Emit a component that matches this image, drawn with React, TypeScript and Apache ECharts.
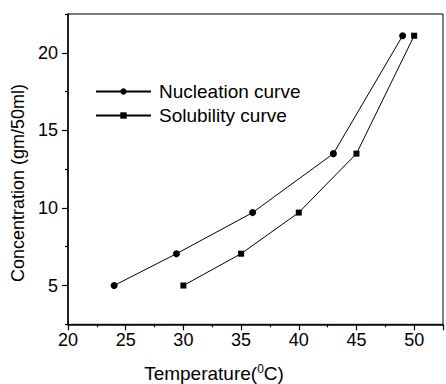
import React, { useEffect, useRef } from "react";
import * as echarts from "echarts";

const nucleationT = [24, 29.4, 36, 43, 49];
const nucleationC = [5.0, 7.05, 9.7, 13.5, 21.1];
const solubilityT = [30, 35, 40, 45, 50];
const solubilityC = [5.0, 7.05, 9.7, 13.5, 21.1];
const seriesNames = ["Nucleation curve", "Solubility curve"];
const xTitle = "Temperature(";
const yTitle = "Concentration (gm/50ml)";

const FONT = "'Liberation Sans', Arial, sans-serif";

export default function App() {
  const ref = useRef<HTMLDivElement>(null);
  useEffect(() => {
    if (!ref.current) return;
    const chart = echarts.init(ref.current, null, { renderer: "svg" });
    const pairs = (xs: number[], ys: number[]) => xs.map((x, i) => [x, ys[i]]);
    const tickStyle = { color: "#000", width: 1.2 };
    chart.setOption({
      animation: false,
      backgroundColor: "#fff",
      textStyle: { fontFamily: FONT },
      grid: {
        left: 68,
        top: 14,
        right: -1.5,
        bottom: 59.7,
        show: true,
        borderColor: "#000",
        borderWidth: 1,
      },
      legend: {
        orient: "vertical",
        left: 90,
        top: 77,
        itemWidth: 55,
        itemHeight: 8,
        itemGap: 5,
        data: seriesNames,
        textStyle: {
          fontFamily: FONT,
          fontSize: 19,
          color: "#000",
          lineHeight: 18,
          padding: [0, 0, 0, 3],
        },
      },
      xAxis: {
        type: "value",
        min: 20,
        max: 52.5,
        interval: 5,
        axisLine: { show: true, lineStyle: { color: "#000", width: 1.5 } },
        axisTick: { show: true, inside: false, length: 6, lineStyle: tickStyle },
        minorTick: { show: true, splitNumber: 2, length: 3, lineStyle: tickStyle },
        splitLine: { show: false },
        axisLabel: {
          color: "#000",
          fontSize: 18,
          fontFamily: FONT,
          margin: 7,
          formatter: (v: number) => (v % 5 === 0 ? String(v) : ""),
        },
      },
      yAxis: [
        {
          type: "value",
          min: 2.5,
          max: 22.5,
          interval: 5,
          axisLine: { show: true, lineStyle: { color: "#000", width: 1.5 } },
          axisTick: { show: true, inside: false, length: 3, lineStyle: tickStyle },
          minorTick: { show: true, splitNumber: 2, length: 6, lineStyle: tickStyle },
          splitLine: { show: false },
          axisLabel: { show: false },
        },
        {
          type: "value",
          position: "left",
          min: 2.5,
          max: 22.5,
          interval: 2.5,
          axisLine: { show: false },
          axisTick: { show: false },
          splitLine: { show: false },
          axisLabel: {
            color: "#000",
            fontSize: 18,
            fontFamily: FONT,
            margin: 10,
            formatter: (v: number) => (Math.abs(v % 5) < 1e-9 ? String(v) : ""),
          },
        },
      ],
      graphic: [
        {
          type: "text",
          x: 18,
          y: 183,
          rotation: Math.PI / 2,
          style: {
            text: yTitle,
            fontSize: 18,
            fontFamily: FONT,
            fill: "#000",
            align: "center",
            verticalAlign: "middle",
          },
        },
        {
          type: "text",
          x: 214,
          y: 373,
          style: {
            text: xTitle + "{s|0}C)",
            fontSize: 19,
            fontFamily: FONT,
            fill: "#000",
            align: "center",
            verticalAlign: "middle",
            rich: {
              s: { fontSize: 12, fontFamily: FONT, fill: "#000", verticalAlign: "top", padding: [0, 0, 9, 0] },
            },
          },
        },
      ],
      series: [
        {
          name: seriesNames[0],
          type: "line",
          data: pairs(nucleationT, nucleationC),
          symbol: "circle",
          symbolSize: 7,
          itemStyle: { color: "#000" },
          lineStyle: { color: "#000", width: 1 },
        },
        {
          name: seriesNames[1],
          type: "line",
          data: pairs(solubilityT, solubilityC),
          symbol: "rect",
          symbolSize: 6,
          itemStyle: { color: "#000" },
          lineStyle: { color: "#000", width: 1 },
        },
      ],
    });
    return () => chart.dispose();
  }, []);
  return (
    <div
      ref={ref}
      style={{ position: "fixed", left: 0, top: 0, width: 446, height: 384, background: "#fff" }}
    />
  );
}
